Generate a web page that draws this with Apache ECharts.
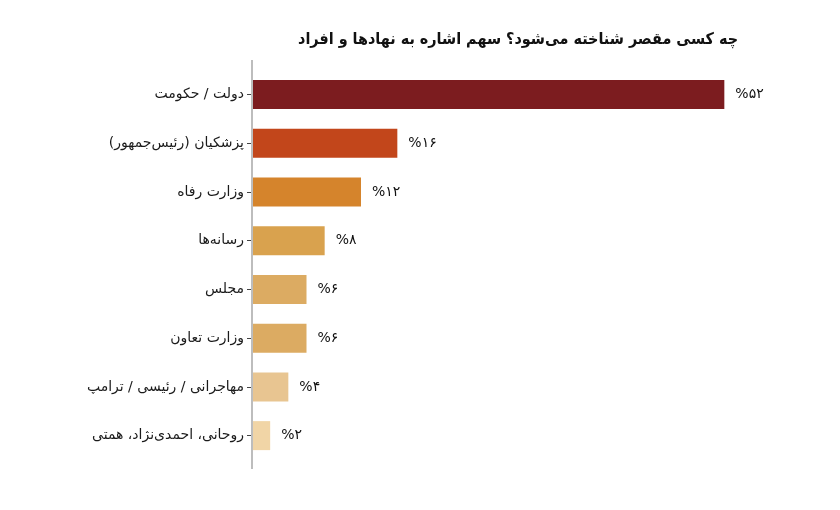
<!DOCTYPE html>
<html>
<head>
<meta charset="utf-8">
<script src="https://cdn.jsdelivr.net/npm/echarts@6/dist/echarts.min.js"></script>
<style>
  html, body { margin: 0; padding: 0; background: #fff; }
  #chart { width: 840px; height: 510px; }
</style>
</head>
<body>
<div id="chart"></div>
<script>
// data
var categories = [
  'دولت / حکومت',
  'پزشکیان (رئیس‌جمهور)',
  'وزارت رفاه',
  'رسانه‌ها',
  'مجلس',
  'وزارت تعاون',
  'مهاجرانی / رئیسی / ترامپ',
  'روحانی، احمدی‌نژاد، همتی'
]
var values = [52, 16, 12, 8, 6, 6, 4, 2]
var valueLabels = ['%۵۲', '%۱۶', '%۱۲', '%۸', '%۶', '%۶', '%۴', '%۲']
var barColors = ['#7c1c1f', '#c2461b', '#d5842c', '#d9a24e', '#dcab62', '#dcab62', '#e8c591', '#f1d5a6']

var FONT = 'DejaVu Sans'
var gridLeft = 252, gridTop = 70, gridBottom = 50

var chart = echarts.init(document.getElementById('chart'))

var option = {
  backgroundColor: '#fff',
  animation: false,
  title: {
    text: 'چه کسی مقصر شناخته می‌شود؟ سهم اشاره به نهادها و افراد',
    right: 97,
    top: 27,
    textStyle: { fontFamily: '"DejaVu Sans Condensed", "DejaVu Sans"', fontSize: 16, fontWeight: 'bold', color: '#111' }
  },
  grid: { left: gridLeft, top: gridTop, bottom: gridBottom, width: 545 },
  xAxis: {
    type: 'value',
    min: 0,
    max: 60,
    show: false
  },
  yAxis: {
    type: 'category',
    data: categories,
    inverse: true,
    axisLine: { show: false },
    axisTick: { show: true, alignWithLabel: true, length: 5, lineStyle: { color: '#444', width: 1 } },
    axisLabel: { fontFamily: FONT, fontSize: 14, color: '#1a1a1a', margin: 8 }
  },
  series: [{
    type: 'bar',
    barWidth: 29,
    data: values.map(function (v, i) {
      return { value: v, itemStyle: { color: barColors[i] } }
    }),
    label: {
      show: true,
      position: 'right',
      distance: 11,
      fontFamily: FONT,
      fontSize: 14,
      color: '#111',
      formatter: function (p) { return valueLabels[p.dataIndex] }
    }
  }],
  graphic: [{
    type: 'line',
    shape: { x1: gridLeft, y1: gridTop - 10, x2: gridLeft, y2: 510 - gridBottom + 9 },
    style: { stroke: '#bdbdbd', lineWidth: 2 },
    z: 10
  }]
}

chart.setOption(option)
</script>
</body>
</html>
